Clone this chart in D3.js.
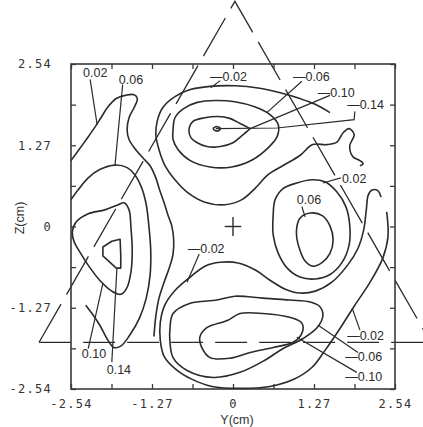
<!DOCTYPE html>
<html><head><meta charset="utf-8">
<script src="https://cdn.jsdelivr.net/npm/d3@7"></script>
<style>
html,body{margin:0;padding:0;background:#fff;}
svg{display:block;}
</style></head>
<body><svg id="c" width="423" height="427"></svg>
<script>
// ---------- axis data (cm) ----------
const axisTicks = [-2.54,-1.905,-1.27,-0.635,0,0.635,1.27,1.905,2.54];
const axisMajor = [-2.54,-1.27,0,1.27,2.54];
const axisMajorLabels = ["-2.54","-1.27","0","1.27","2.54"];
const xTitle = "Y(cm)";
const yTitle = "Z(cm)";

// ---------- contour lines [Y cm, Z cm] ----------
// top (negative) island
const negTop014 = [[-0.31,1.53],[-0.27,1.56],[-0.20,1.54],[-0.22,1.50],[-0.28,1.50]];
const negTop010 = [[0.27,1.53],[0.11,1.61],[-0.05,1.69],[-0.24,1.72],[-0.44,1.70],[-0.63,1.64],[-0.69,1.51],[-0.66,1.39],[-0.56,1.31],[-0.41,1.25],[-0.20,1.25],[0.00,1.31],[0.14,1.42],[0.27,1.53]];
const negTop006 = [[-0.94,1.51],[-0.91,1.70],[-0.78,1.84],[-0.56,1.94],[-0.28,1.97],[0.03,1.95],[0.34,1.87],[0.58,1.75],[0.71,1.59],[0.69,1.40],[0.55,1.23],[0.30,1.04],[-0.02,0.93],[-0.36,0.93],[-0.67,1.03],[-0.86,1.20],[-0.94,1.36]];
const negTop002 = [[1.52,1.78],[1.29,1.91],[1.05,2.00],[0.74,2.09],[0.42,2.16],[0.03,2.20],[-0.36,2.19],[-0.67,2.14],[-0.91,2.03],[-1.10,1.86],[-1.19,1.64],[-1.21,1.43],[-1.16,1.20],[-1.07,0.96],[-0.91,0.73],[-0.71,0.53],[-0.44,0.38],[-0.13,0.34],[0.14,0.42],[0.35,0.60],[0.55,0.81],[0.78,0.95],[1.05,1.11],[1.25,1.28],[1.47,1.28],[1.63,1.32],[1.73,1.47],[1.82,1.53],[1.90,1.44],[1.83,1.26],[1.88,1.09],[1.99,1.03],[2.04,0.98],[1.99,0.95]];
// right (positive) island
const posRight006 = [[1.05,0.13],[1.21,0.21],[1.40,0.17],[1.52,0.01],[1.57,-0.21],[1.52,-0.42],[1.40,-0.56],[1.25,-0.62],[1.13,-0.54],[1.05,-0.37],[1.00,-0.18],[1.00,-0.01]];
const posRight002 = [[0.63,0.18],[0.66,0.42],[0.78,0.59],[1.00,0.68],[1.24,0.73],[1.44,0.70],[1.63,0.54],[1.77,0.31],[1.83,0.02],[1.82,-0.29],[1.71,-0.56],[1.52,-0.75],[1.29,-0.82],[1.05,-0.79],[0.85,-0.65],[0.71,-0.42],[0.63,-0.13]];
// bottom (negative) island
const negBot010 = [[-0.49,-1.89],[-0.52,-1.73],[-0.41,-1.58],[-0.09,-1.47],[0.11,-1.36],[0.47,-1.36],[0.89,-1.42],[1.08,-1.51],[1.08,-1.67],[0.94,-1.81],[0.63,-1.89],[0.27,-1.97],[-0.05,-2.06],[-0.36,-2.05]];
const negBot006 = [[-0.99,-1.62],[-0.94,-1.36],[-0.67,-1.20],[-0.25,-1.15],[0.03,-1.09],[0.47,-1.12],[0.89,-1.15],[1.21,-1.18],[1.36,-1.25],[1.41,-1.39],[1.32,-1.58],[1.10,-1.75],[0.78,-1.91],[0.50,-2.09],[0.11,-2.28],[-0.31,-2.36],[-0.72,-2.25],[-0.94,-2.05],[-0.99,-1.78]];
const negBot002 = [[2.32,0.46],[2.27,0.56],[2.18,0.57],[2.12,0.49],[2.09,0.26],[2.05,-0.05],[1.96,-0.34],[1.80,-0.60],[1.55,-0.87],[1.29,-1.01],[1.05,-1.04],[0.82,-0.98],[0.58,-0.84],[0.35,-0.68],[0.08,-0.57],[-0.20,-0.56],[-0.44,-0.62],[-0.67,-0.79],[-0.91,-1.00],[-1.07,-1.23],[-1.14,-1.50],[-1.14,-1.78],[-1.08,-2.03],[-0.91,-2.22],[-0.64,-2.39],[-0.33,-2.50],[0.11,-2.53],[0.58,-2.50],[0.97,-2.38],[1.24,-2.20],[1.44,-1.94],[1.68,-1.59],[1.91,-1.23],[2.15,-0.87],[2.35,-0.49],[2.43,-0.16],[2.41,0.23]];
// left (positive) island
const posLeft002 = [[-2.54,1.03],[-2.43,1.18],[-2.30,1.36],[-2.18,1.53],[-2.07,1.70],[-1.96,1.87],[-1.83,2.00],[-1.69,2.05],[-1.55,2.06],[-1.50,2.00],[-1.55,1.86],[-1.63,1.70],[-1.66,1.51],[-1.63,1.36],[-1.54,1.22],[-1.41,1.07],[-1.30,0.95],[-1.21,0.76],[-1.15,0.57],[-1.08,0.37],[-1.02,0.18],[-0.96,0.01],[-0.93,-0.21],[-0.94,-0.43],[-1.00,-0.65],[-1.08,-0.87],[-1.16,-1.12],[-1.21,-1.40],[-1.24,-1.72]];
const posLeft006 = [[-2.54,0.42],[-2.43,0.57],[-2.27,0.76],[-2.09,0.89],[-1.85,0.96],[-1.66,0.92],[-1.54,0.81],[-1.43,0.60],[-1.36,0.34],[-1.32,0.02],[-1.29,-0.37],[-1.30,-0.76],[-1.36,-1.12],[-1.47,-1.44],[-1.62,-1.70],[-1.76,-1.87],[-1.87,-1.89],[-1.96,-1.78],[-2.09,-1.54],[-2.21,-1.36],[-2.31,-1.23]];
const posLeft010 = [[-2.52,-0.09],[-2.46,0.07],[-2.27,0.20],[-2.01,0.26],[-1.80,0.34],[-1.71,0.37],[-1.63,0.26],[-1.60,-0.02],[-1.58,-0.37],[-1.60,-0.71],[-1.66,-0.95],[-1.76,-1.06],[-1.90,-1.01],[-2.09,-0.84],[-2.26,-0.62],[-2.40,-0.40],[-2.49,-0.24]];
const posLeft014 = [[-2.04,-0.32],[-1.90,-0.23],[-1.77,-0.20],[-1.76,-0.45],[-1.76,-0.65],[-1.83,-0.65],[-2.04,-0.46]];

// ---------- label leader lines ----------
const leaders = [
  [[-2.24,2.30],[-2.13,1.59]],
  [[-1.73,2.22],[-1.85,0.96]],
  [[-2.27,-1.91],[-2.04,-0.89]],
  [[-1.90,-2.12],[-1.82,-0.65]],
  [[-0.20,2.28],[-0.35,2.17]],
  [[1.08,2.27],[0.53,1.78]],
  [[1.52,2.05],[0.27,1.53]],
  [[1.91,1.80],[1.90,1.67],[0.69,1.54],[-0.27,1.53]],
  [[1.69,0.76],[1.41,0.68]],
  [[1.08,0.31],[1.13,0.15]],
  [[-0.53,-0.43],[-0.72,-0.87]],
  [[1.99,-1.62],[1.87,-1.28]],
  [[1.96,-1.97],[1.33,-1.54]],
  [[1.94,-2.28],[1.00,-1.73]]
];

// ---------- contour labels (text start, baseline) ----------
const labelTexts = ["0.02","0.06","0.10","0.14","\u20140.02","\u20140.06","\u20140.10","\u20140.14","0.02","0.06","\u20140.02","\u20140.02","\u20140.06","\u20140.10"];
const labelY = [-2.35,-1.79,-2.37,-1.98,-0.36,0.94,1.33,1.79,1.71,1.00,-0.71,1.79,1.76,1.76];
const labelZ = [2.33,2.22,-2.06,-2.31,2.28,2.27,2.03,1.84,0.68,0.35,-0.42,-1.78,-2.11,-2.41];

// ---------- probe outline (dashed triangle) and centre ----------
const triangle = [[0.03,3.52],[-3.04,-1.81],[3.10,-1.81]];
const baseLineExt = [[-3.04,-1.81],[3.10,-1.81]];
const centreMark = [0,0];

// ============ drawing ============
const svg = d3.select("#c");
svg.append("rect").attr("width",423).attr("height",427).attr("fill","#fff");
const x = d3.scaleLinear().domain([-2.54,2.54]).range([71,395]);
const y = d3.scaleLinear().domain([-2.54,2.54]).range([389,64]);
const ink = "#2b2b2b";

const lineOpen = d3.line().x(d=>x(d[0])).y(d=>y(d[1])).curve(d3.curveCatmullRom.alpha(0.5));
const lineClosed = d3.line().x(d=>x(d[0])).y(d=>y(d[1])).curve(d3.curveCatmullRomClosed.alpha(0.5));
const lineLin = d3.line().x(d=>x(d[0])).y(d=>y(d[1]));
const lineLinClosed = d3.line().x(d=>x(d[0])).y(d=>y(d[1])).curve(d3.curveLinearClosed);

// dashed triangle
svg.append("path").attr("d", lineLin([triangle[1],triangle[0],triangle[2]]))
  .attr("fill","none").attr("stroke",ink).attr("stroke-width",1.3).attr("stroke-dasharray","44,11");
svg.append("path").attr("d", lineLin(baseLineExt))
  .attr("fill","none").attr("stroke",ink).attr("stroke-width",1.3).attr("stroke-dasharray","32,12");

// frame
svg.append("rect").attr("x",x(-2.54)).attr("y",y(2.54))
  .attr("width",x(2.54)-x(-2.54)).attr("height",y(-2.54)-y(2.54))
  .attr("fill","none").attr("stroke","#3a3a3a").attr("stroke-width",1.6);

// axes
const fmt = d => { const i = axisMajor.findIndex(v=>Math.abs(v-d)<1e-6); return i>=0 ? axisMajorLabels[i] : ""; };
function styleAxis(g){
  g.select(".domain").remove();
  g.selectAll(".tick line").attr("stroke","#3a3a3a").attr("stroke-width",1.3);
  g.selectAll(".tick text").attr("fill","#333").style("font-family","'DejaVu Sans Mono', monospace")
    .style("font-size","12px").style("letter-spacing","1.3px");
}
svg.append("g").attr("transform",`translate(0,${y(-2.54)})`)
  .call(d3.axisBottom(x).tickValues(axisTicks).tickSize(-5).tickPadding(10).tickFormat(fmt)).call(styleAxis);
svg.append("g").attr("transform",`translate(${x(-2.54)},0)`)
  .call(d3.axisLeft(y).tickValues(axisTicks).tickSize(-5).tickPadding(19).tickFormat(fmt)).call(styleAxis);
svg.append("g").attr("transform",`translate(0,${y(2.54)})`)
  .call(d3.axisTop(x).tickValues(axisTicks).tickSize(-5).tickFormat("")).call(styleAxis);
svg.append("g").attr("transform",`translate(${x(2.54)},0)`)
  .call(d3.axisRight(y).tickValues(axisTicks).tickSize(-5).tickFormat("")).call(styleAxis);

// axis titles
svg.append("text").attr("x",237).attr("y",424).attr("text-anchor","middle")
  .style("font-family","'Liberation Sans', sans-serif").style("font-size","12.5px").attr("fill","#333").text(xTitle);
svg.append("text").attr("transform","translate(24,218) rotate(-90)").attr("text-anchor","middle")
  .style("font-family","'Liberation Sans', sans-serif").style("font-size","12.5px").attr("fill","#333").text(yTitle);

// contours
const contours = [
  {p:negTop014, t:"closed"},{p:negTop010, t:"open"},{p:negTop006, t:"closed"},{p:negTop002, t:"open"},
  {p:posRight006, t:"closed"},{p:posRight002, t:"closed"},
  {p:negBot010, t:"closed"},{p:negBot006, t:"closed"},{p:negBot002, t:"open"},
  {p:posLeft002, t:"open"},{p:posLeft006, t:"open"},{p:posLeft010, t:"closed"},{p:posLeft014, t:"lin"}
];
svg.append("g").selectAll("path").data(contours).join("path")
  .attr("d", c => c.t==="closed" ? lineClosed(c.p) : c.t==="lin" ? lineLinClosed(c.p) : lineOpen(c.p))
  .attr("fill","none").attr("stroke",ink).attr("stroke-width",1.6).attr("stroke-linejoin","round");

// leaders
svg.append("g").selectAll("path").data(leaders).join("path")
  .attr("d", d => lineLin(d)).attr("fill","none").attr("stroke",ink).attr("stroke-width",1.2);

// labels
svg.append("g").selectAll("text").data(labelTexts).join("text")
  .attr("x",(d,i)=>x(labelY[i])).attr("y",(d,i)=>y(labelZ[i]))
  .style("font-family","'Liberation Sans', sans-serif").style("font-size","12.5px").attr("fill","#2b2b2b")
  .text(d=>d);

// centre mark
const h = 0.13;
svg.append("path").attr("d", lineLin([[centreMark[0]-h,centreMark[1]],[centreMark[0]+h,centreMark[1]]]))
  .attr("stroke",ink).attr("stroke-width",1.4);
svg.append("path").attr("d", lineLin([[centreMark[0],centreMark[1]-h*1.15],[centreMark[0],centreMark[1]+h*1.15]]))
  .attr("stroke",ink).attr("stroke-width",1.4);
</script>
</body></html>
